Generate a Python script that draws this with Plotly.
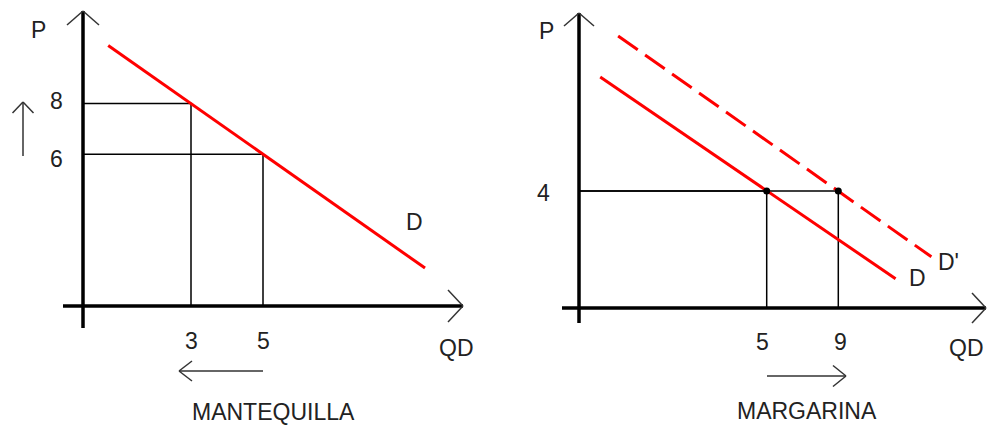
import plotly.graph_objects as go

# ---- data -------------------------------------------------------------
# MANTEQUILLA: price rises 6 -> 8, quantity demanded falls 5 -> 3
mant_price = [8, 6]
mant_qty = [3, 5]
mant_demand_q = [0.7, 9.5]
mant_demand_p = [10.3, 1.5]

# MARGARINA: at price 4 demand shifts out, quantity 5 -> 9
marg_price = [4, 4]
marg_qty = [5, 9]
marg_demand_q = [-4.3, 12.2]
marg_demand_p = [7.9, 1.0]
marg_shift_q = [-3.3, 14.2]
marg_shift_p = [9.3, 1.75]

# ---- layout helpers -----------------------------------------------------
W, H = 987, 425
FONT = "Liberation Sans, Arial, sans-serif"
TXT = "#222222"
RED = "#ff0000"


def fx(px):
    return px / W


def fy(py):
    return 1 - py / H


# panel frames (pixel positions of the drawn axes)
L_AX, L_AY, L_TOP, L_RIGHT = 83, 306, 11, 463
R_AX, R_AY, R_TOP, R_RIGHT = 579, 308, 13, 986

L_XS, L_YS = 36.0, 25.3          # px per unit
R_XS, R_YS = 17.9, 29.25
R_X5 = 766.7                      # where Q=5 sits on the right panel
r_q0 = 5 - (R_X5 - R_AX) / R_XS

fig = go.Figure()

# ---- MANTEQUILLA ------------------------------------------------------
for q, p in zip(mant_qty, mant_price):
    fig.add_trace(go.Scatter(x=[0, q, q], y=[p, p, 0], mode="lines",
                             line=dict(color="black", width=1.5),
                             xaxis="x", yaxis="y", hoverinfo="skip"))
fig.add_trace(go.Scatter(x=mant_demand_q, y=mant_demand_p, mode="lines",
                         line=dict(color=RED, width=3),
                         xaxis="x", yaxis="y", name="D"))

# ---- MARGARINA --------------------------------------------------------
for q, p in zip(marg_qty, marg_price):
    fig.add_trace(go.Scatter(x=[r_q0, q, q], y=[p, p, 0], mode="lines",
                             line=dict(color="black", width=1.5),
                             xaxis="x2", yaxis="y2", hoverinfo="skip"))
fig.add_trace(go.Scatter(x=marg_demand_q, y=marg_demand_p, mode="lines",
                         line=dict(color=RED, width=3),
                         xaxis="x2", yaxis="y2", name="D"))
fig.add_trace(go.Scatter(x=marg_shift_q, y=marg_shift_p, mode="lines",
                         line=dict(color=RED, width=3, dash="24px,9px"),
                         xaxis="x2", yaxis="y2", name="D'"))
fig.add_trace(go.Scatter(x=marg_qty, y=marg_price, mode="markers",
                         marker=dict(color="black", size=7),
                         xaxis="x2", yaxis="y2", hoverinfo="skip"))

# ---- axes lines and arrows (shapes) -------------------------------------
shapes = []


def seg(x0, y0, x1, y1, width=1.5, color="#333333"):
    shapes.append(dict(type="line", xref="paper", yref="paper",
                       x0=fx(x0), y0=fy(y0), x1=fx(x1), y1=fy(y1),
                       line=dict(color=color, width=width)))


def head(x0, y0, x1, y1, size=(14, 10), width=1.5, color="#333333"):
    # open V head at (x1, y1), pointing along (x0, y0) -> (x1, y1)
    dx, dy = x1 - x0, y1 - y0
    n = (dx * dx + dy * dy) ** 0.5
    ux, uy = dx / n, dy / n
    back, side = size
    for s in (1, -1):
        seg(x1, y1, x1 - ux * back - s * uy * side,
            y1 - uy * back + s * ux * side, width, color)


def arrow(x0, y0, x1, y1, size=(14, 10), width=1.5, color="#333333"):
    seg(x0, y0, x1, y1, width, color)
    head(x0, y0, x1, y1, size, width, color)


# left panel axes
seg(63, L_AY, L_RIGHT, L_AY, 3.5, "black")
seg(L_AX, L_TOP, L_AX, 328, 3.5, "black")
head(L_AX, 40, L_AX, L_TOP, size=(14, 16))
head(400, L_AY, L_RIGHT, L_AY, size=(15, 16))
# right panel axes
seg(562, R_AY, R_RIGHT, R_AY, 3.5, "black")
seg(R_AX, R_TOP, R_AX, 323, 3.5, "black")
head(R_AX, 40, R_AX, R_TOP, size=(13, 15))
head(930, R_AY, R_RIGHT, R_AY, size=(14, 15))

# movement arrows
arrow(23, 156, 23, 102, size=(11, 10.5))
arrow(263, 371, 179, 371, size=(13, 10))
arrow(767, 376, 846, 376, size=(13, 10.5))

# ---- text -------------------------------------------------------------
ann = []


def label(text, x, y, xref="paper", yref="paper", xanchor="center", **kw):
    ann.append(dict(text=text, x=x, y=y, xref=xref, yref=yref,
                    xanchor=xanchor, yanchor="middle", showarrow=False,
                    font=dict(family=FONT, size=23, color=TXT), **kw))


# MANTEQUILLA labels
label("P", fx(38), fy(30))
for p, ys in zip(mant_price, [3, -5]):
    label(str(p), fx(56), p, yref="y", yshift=ys)
for q in mant_qty:
    label(str(q), q, fy(341), xref="x")
label("QD", fx(456), fy(348))
label("D", fx(414), fy(222))
label("MANTEQUILLA", fx(273), fy(412))

# MARGARINA labels
label("P", fx(546), fy(31))
label(str(marg_price[0]), fx(543), marg_price[0], yref="y2", yshift=-2)
for q, xs in zip(marg_qty, [-4, 2]):
    label(str(q), q, fy(342), xref="x2", xshift=xs)
label("QD", fx(986), fy(348), xanchor="right")
label("D", fx(917), fy(278))
label("D'", fx(948), fy(262))
label("MARGARINA", fx(807), fy(411))

axis_common = dict(visible=False, showgrid=False, zeroline=False, fixedrange=True)

fig.update_layout(
    width=W, height=H, autosize=False,
    margin=dict(l=0, r=0, t=0, b=0, pad=0),
    paper_bgcolor="white", plot_bgcolor="white",
    showlegend=False,
    shapes=shapes, annotations=ann,
    xaxis=dict(domain=[fx(L_AX), fx(L_RIGHT)],
               range=[0, (L_RIGHT - L_AX) / L_XS], **axis_common),
    yaxis=dict(domain=[fy(L_AY), fy(L_TOP)],
               range=[0, (L_AY - L_TOP) / L_YS], **axis_common),
    xaxis2=dict(domain=[fx(R_AX), fx(R_RIGHT)],
                range=[r_q0, r_q0 + (R_RIGHT - R_AX) / R_XS], **axis_common),
    yaxis2=dict(domain=[fy(R_AY), fy(R_TOP)],
                range=[0, (R_AY - R_TOP) / R_YS], **axis_common),
)

fig.write_html("out.html")
